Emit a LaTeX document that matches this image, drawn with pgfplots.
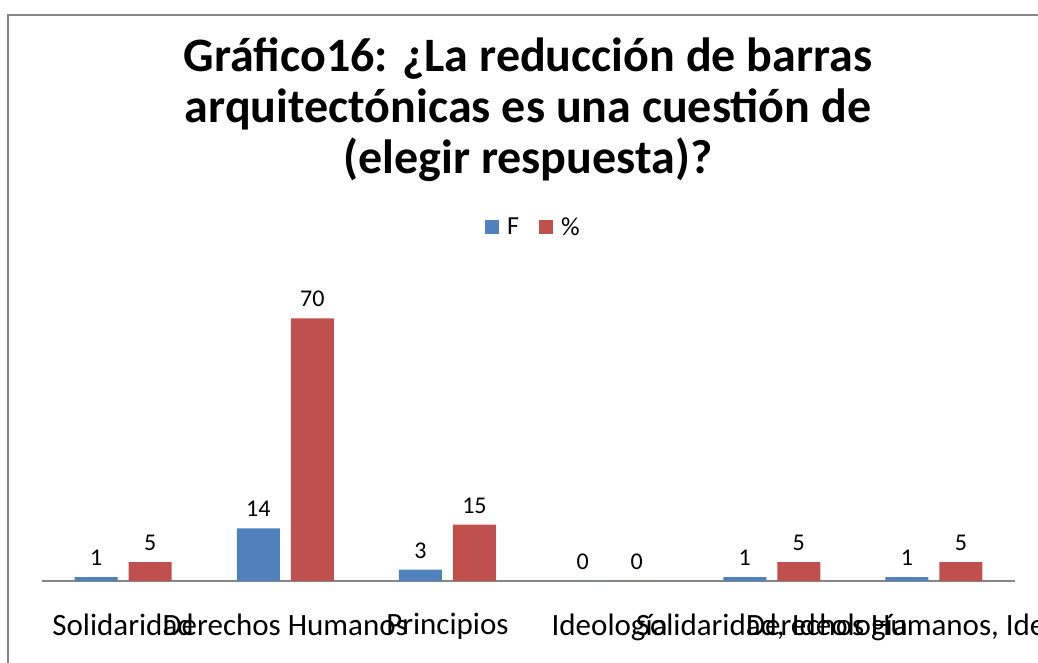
\documentclass[border=0pt]{standalone}
\usepackage{fontspec}
\setmainfont{Carlito}
\usepackage{pgfplots}
\pgfplotsset{compat=1.18}
\definecolor{xlblue}{HTML}{4F81BD}
\definecolor{xlred}{HTML}{C0504D}
\definecolor{framegray}{HTML}{868686}

\begin{document}
\begin{tikzpicture}[x=1pt,y=1pt]
\useasboundingbox (0,0) rectangle (1038,663);
% chart frame (right and bottom edges fall outside the picture)
\draw[framegray, line width=2pt] (8,-10) -- (8,648) -- (1050,648);
% title
\node[align=center, font=\fontsize{48}{51}\selectfont\bfseries] at (528,553)
  {Gráfico16: ¿La reducción de barras\\arquitectónicas es una cuestión de\\(elegir respuesta)?};
\begin{axis}[
    at={(42pt,82pt)}, anchor=south west,
    scale only axis,
    width=973pt, height=300pt,
    ybar=11pt, bar width=43pt,
    xmin=-0.5, xmax=5.5,
    ymin=0, ymax=80,
    axis x line*=bottom,
    axis y line=none,
    x axis line style={framegray, line width=1.2pt, -},
    xtick={0,1,2,3,4,5},
    xticklabels={Solidaridad, Derechos Humanos, Principios, Ideología, {Solidaridad, Ideología}, {Derechos Humanos, Ideología}},
    xticklabel style={font=\fontsize{31}{31}\selectfont, yshift=-29pt},
    major tick length=0pt,
    /pgf/number format/assume math mode=true,
    nodes near coords,
    every node near coord/.append style={font=\fontsize{24}{24}\selectfont, black, yshift=8pt},
    legend columns=2,
    legend style={draw=none, fill=none, at={(0.505,1.18)}, anchor=center,
      /tikz/every odd column/.append style={column sep=6pt},
      /tikz/every even column/.append style={column sep=18pt}},
    legend image code/.code={\fill[#1] (0pt,-7pt) rectangle (14pt,7pt);},
    clip=false,
]
\addplot[fill=xlblue, draw=none] coordinates {(0,1) (1,14) (2,3) (3,0) (4,1) (5,1)};
\addplot[fill=xlred, draw=none] coordinates {(0,5) (1,70) (2,15) (3,0) (4,5) (5,5)};
\legend{\fontsize{26}{26}\selectfont F, \fontsize{26}{26}\selectfont \%}
\end{axis}
\end{tikzpicture}
\end{document}
